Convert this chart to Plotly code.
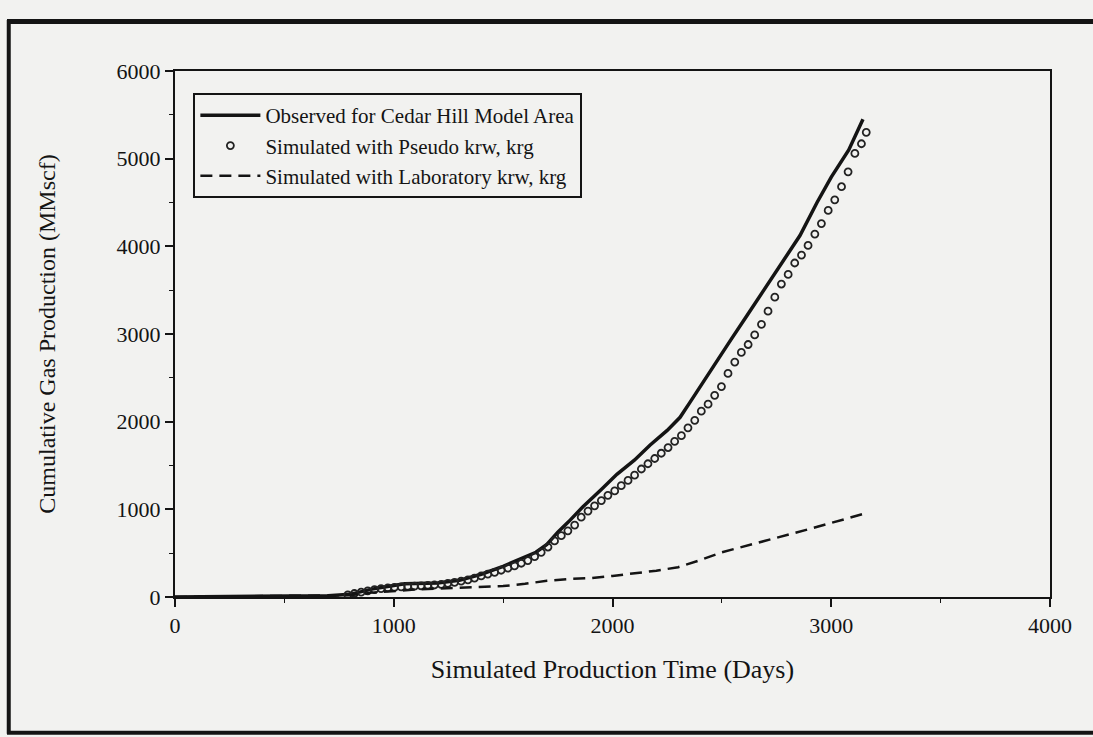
import plotly.graph_objects as go

# ---- data ----
obs_days = [0, 400, 700, 800, 900, 1000, 1050, 1100, 1200, 1300, 1400, 1500, 1600, 1650,
            1700, 1750, 1800, 1865, 1950, 2020, 2100, 2171, 2250, 2309, 2354, 2413, 2459,
            2540, 2615, 2700, 2766, 2857, 2935, 3000, 3080, 3145]
obs_gas = [0, 5, 15, 30, 90, 130, 150, 155, 160, 190, 260, 350, 450, 510,
           600, 740, 860, 1030, 1230, 1400, 1560, 1731, 1900, 2050, 2220, 2440, 2620,
           2930, 3212, 3530, 3781, 4123, 4500, 4790, 5100, 5450]

pseudo_days = [790, 820, 851, 881, 912, 942, 973, 1003, 1034, 1064, 1095, 1125, 1156, 1186,
               1217, 1247, 1278, 1308, 1339, 1369, 1400, 1430, 1461, 1491, 1522, 1552, 1583,
               1613, 1644, 1674, 1705, 1735, 1766, 1796, 1827, 1857, 1888, 1918, 1949, 1979,
               2010, 2040, 2071, 2101, 2132, 2162, 2193, 2223, 2254, 2284, 2315, 2345, 2376,
               2406, 2437, 2467, 2498, 2528, 2559, 2589, 2620, 2650, 2681, 2711, 2742, 2772,
               2803, 2833, 2864, 2894, 2925, 2955, 2986, 3016, 3047, 3077, 3108, 3138, 3160]
pseudo_gas = [25, 40, 55, 70, 85, 95, 105, 110, 115, 120, 125, 128, 132, 137,
              145, 155, 167, 180, 195, 215, 240, 260, 280, 305, 330, 355, 385,
              415, 460, 510, 570, 640, 700, 755, 820, 910, 980, 1040, 1100, 1160,
              1210, 1270, 1330, 1390, 1460, 1520, 1580, 1640, 1705, 1775, 1840, 1930, 2015,
              2120, 2200, 2300, 2400, 2550, 2680, 2790, 2880, 2990, 3110, 3260, 3420, 3570,
              3680, 3810, 3900, 4010, 4140, 4260, 4410, 4530, 4680, 4850, 5060, 5170, 5300]

lab_days = [0, 800, 900, 1000, 1100, 1200, 1300, 1400, 1500, 1600, 1700, 1800, 1900, 2000,
            2100, 2200, 2300, 2400, 2500, 2600, 2700, 2800, 2900, 3000, 3100, 3165]
lab_gas = [0, 20, 50, 70, 85, 95, 105, 115, 125, 150, 185, 205, 215, 240,
           270, 300, 340, 420, 510, 575, 645, 710, 775, 845, 910, 960]

names = ["Observed for Cedar Hill Model Area",
         "Simulated with Pseudo krw, krg",
         "Simulated with Laboratory krw, krg"]

FONT = "Liberation Serif"
BG = "#f2f2f0"
INK = "#141414"

fig = go.Figure()
fig.add_trace(go.Scatter(x=obs_days, y=obs_gas, mode="lines", name=names[0],
                         line=dict(color=INK, width=3.5)))
fig.add_trace(go.Scatter(x=pseudo_days, y=pseudo_gas, mode="markers", name=names[1],
                         marker=dict(symbol="circle-open", size=7, color="#222222",
                                     line=dict(width=1.8, color="#222222"))))
fig.add_trace(go.Scatter(x=lab_days, y=lab_gas, mode="lines", name=names[2],
                         line=dict(color=INK, width=2.5, dash="12px,7px")))

axis_common = dict(showline=True, linecolor=INK, linewidth=2, mirror=True,
                   ticks="outside", ticklen=8, tickwidth=1.5, tickcolor=INK,
                   showgrid=False, zeroline=False,
                   tickfont=dict(family=FONT, size=22, color=INK),
                   minor=dict(ticks="outside", ticklen=4, tickwidth=1.2,
                              tickcolor=INK, dtick=500, showgrid=False))

fig.update_xaxes(range=[0, 4000], dtick=1000, tick0=0,
                 title=dict(text="Simulated Production Time (Days)",
                            font=dict(family=FONT, size=26, color=INK), standoff=22),
                 **axis_common)
fig.update_yaxes(range=[0, 6000], dtick=1000, tick0=0,
                 title=dict(text="Cumulative Gas Production (MMscf)",
                            font=dict(family=FONT, size=24, color=INK), standoff=54),
                 **axis_common)

fig.update_layout(
    width=1093, height=737,
    margin=dict(l=175, r=43, t=71, b=140),
    paper_bgcolor=BG, plot_bgcolor=BG,
    font=dict(family=FONT, color=INK),
    legend=dict(x=0.021, y=0.958, xanchor="left", yanchor="top",
                bgcolor=BG, bordercolor=INK, borderwidth=2,
                font=dict(family=FONT, size=21, color=INK),
                itemwidth=60, tracegroupgap=0),
    showlegend=True,
)

# outer scanned-page frame
fig.add_shape(type="line", xref="paper", yref="paper", x0=-0.192, x1=1.06, y0=1.094, y1=1.094,
              line=dict(color=INK, width=5))
fig.add_shape(type="line", xref="paper", yref="paper", x0=-0.190, x1=-0.190, y0=1.097, y1=-0.260,
              line=dict(color=INK, width=4))
fig.add_shape(type="line", xref="paper", yref="paper", x0=-0.192, x1=1.06, y0=-0.258, y1=-0.258,
              line=dict(color=INK, width=4))

fig.write_html("out.html")
